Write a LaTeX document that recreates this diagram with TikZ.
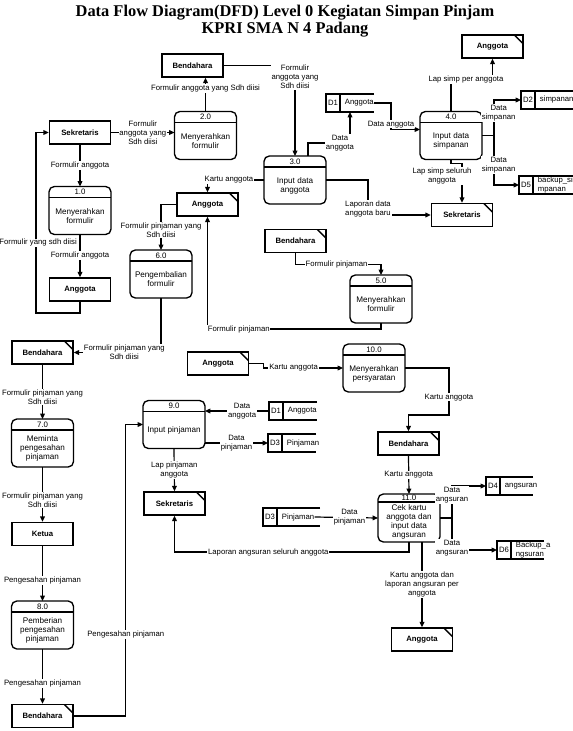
\documentclass[tikz,border=0pt]{standalone}
\usepackage{fontspec}
\setsansfont{Liberation Sans}
\newfontfamily\titlefont{Liberation Serif}
\usetikzlibrary{arrows.meta}

\tikzset{
  entbox/.style={draw, line width=1.1pt, minimum width=45.75pt, minimum height=17.25pt, inner sep=0pt,
    font=\sffamily\bfseries\fontsize{5.8}{6.8}\selectfont},
  entcut/.style={entbox, path picture={\draw[line width=1pt] ([xshift=-6.5pt]path picture bounding box.north east) -- ([yshift=-6.5pt]path picture bounding box.north east);}},
  procbox/.style={draw, line width=1pt, rounded corners=4pt, minimum width=46.5pt, minimum height=36pt, inner sep=0pt, outer sep=0pt},
  procnum/.style={inner sep=0pt, font=\sffamily\fontsize{5.9}{6.8}\selectfont},
  proctxt/.style={inner sep=0pt, align=center, font=\sffamily\fontsize{6.1}{6.8}\selectfont},
  storebox/.style={minimum height=13.5pt, inner sep=0pt, outer sep=0pt},
  storetxt/.style={inner sep=0pt, align=left, font=\sffamily\fontsize{5.8}{6.8}\selectfont},
  flowline/.style={line width=0.9pt, -{Triangle[length=4pt,width=3.5pt]}},
  flowlbl/.style={fill=white, inner sep=0.6pt, align=center, font=\sffamily\fontsize{5.8}{6.8}\selectfont}
}
% process: name, centre, header depth, number, text
\def\procnode(#1)(#2)#3#4#5{%
  \node[procbox] (#1) at (#2) {};
  \draw[line width=1pt] ([yshift=-#3]#1.north west) -- ([yshift=-#3]#1.north east);
  \node[procnum] at ([yshift=-#3/2]#1.north) {#4};
  \node[proctxt] at ([yshift=-#3/2]#1.center) {#5};
}
% data store: name, north west corner, length, id, text
\def\storenode(#1)(#2)#3#4#5{%
  \node[storebox, minimum width=#3, anchor=north west] (#1) at (#2) {};
  \draw[line width=0.9pt] (#1.north east) -- (#1.north west) -- (#1.south west) -- (#1.south east);
  \draw[line width=0.9pt] ([xshift=10.5pt]#1.north west) -- ([xshift=10.5pt]#1.south west);
  \node[storetxt] at ([xshift=5.25pt]#1.west) {#4};
  \node[storetxt, anchor=west] at ([xshift=14pt]#1.west) {#5};
}

\begin{document}
\begin{tikzpicture}[x=0.75pt, y=-0.75pt]
		%%%%% START %%%%%
		\useasboundingbox (0,0) rectangle (573,731);
		
		\node[anchor=base, font=\titlefont\bfseries\fontsize{12.3}{14}\selectfont] (title1) at (285,16.5) {Data Flow Diagram(DFD) Level 0 Kegiatan Simpan Pinjam};
		\node[anchor=base, font=\titlefont\bfseries\fontsize{12.3}{14}\selectfont] (title2) at (285,33.5) {KPRI SMA N 4 Padang};
		
		\node[entcut] (angTR) at (492.5,46.5) {Anggota};
		\node[entbox] (bendT) at (192.5,65.5) {Bendahara};
		\node[entbox] (sekTL) at (80,132.5) {Sekretaris};
		\node[entbox] (angL) at (80,289.5) {Anggota};
		\node[entcut] (angM) at (207.5,204.5) {Anggota};
		\node[entcut] (sekR) at (462,215) {Sekretaris};
		\node[entcut] (bendM) at (295.5,241) {Bendahara};
		\node[entcut] (bendL) at (42.5,352.5) {Bendahara};
		\node[entcut] (angM2) at (218,363.5) {Anggota};
		\node[entbox] (ketua) at (42.5,534) {Ketua};
		\node[entcut] (bendR) at (408.5,443.5) {Bendahara};
		\node[entcut] (sekB) at (174.5,503.5) {Sekretaris};
		\node[entcut] (angBR) at (422,639.5) {Anggota};
		\node[entcut] (bendBL) at (42.5,716) {Bendahara};
		
		\procnode(p1)(80,210.5){8.25pt}{1.0}{Menyerahkan\\formulir}
		\procnode(p2)(205.5,135.5){8.25pt}{2.0}{Menyerahkan\\formulir}
		\procnode(p3)(295,180){8.25pt}{3.0}{Input data\\anggota}
		\procnode(p4)(451,135.5){8.25pt}{4.0}{Input data\\simpanan}
		\procnode(p5)(381,299){8.25pt}{5.0}{Menyerahkan\\formulir}
		\procnode(p6)(161,274){8.25pt}{6.0}{Pengembalian\\formulir}
		\procnode(p7)(42.5,443){8.25pt}{7.0}{Meminta\\pengesahan\\pinjaman}
		\procnode(p8)(42.5,625){8.25pt}{8.0}{Pemberian\\pengesahan\\pinjaman}
		\procnode(p9)(174,424.5){8.25pt}{9.0}{Input pinjaman}
		\procnode(p10)(374,368){8.25pt}{10.0}{Menyerahkan\\persyaratan}
		\procnode(p11)(409,518){6pt}{11.0}{Cek kartu\\anggota dan\\input data\\angsuran}
		
		\storenode(d1a)(326,94){36pt}{D1}{Anggota}
		\storenode(d2)(521,91){39pt}{D2}{simpanan}
		\storenode(d5)(519,176){40.5pt}{D5}{backup\_si\\mpanan}
		\storenode(d1b)(269,402){36pt}{D1}{Anggota}
		\storenode(d3a)(268,434){36pt}{D3}{Pinjaman}
		\storenode(d3b)(263,508){42.75pt}{D3}{Pinjaman}
		\storenode(d4)(486,477){35.25pt}{D4}{angsuran}
		\storenode(d6)(497,541){35.25pt}{D6}{Backup\_a\\ngsuran}
		
		\draw[flowline] (bendT.east) -| (p3.north) node[flowlbl, pos=0.563] {Formulir\\anggota yang\\Sdh diisi};
		\draw[flowline] (p2.north) -- (p2.north |- bendT.south) node[flowlbl, pos=0.69] {Formulir anggota yang Sdh diisi};
		\draw[flowline] (sekTL.east) -- (sekTL.east -| p2.west) node[flowlbl, midway] {Formulir\\anggota yang\\Sdh diisi};
		\draw[flowline] (sekTL.south) -- (p1.north) node[flowlbl, midway] {Formulir anggota};
		\draw[flowline] (p1.south) -- (angL.north) node[flowlbl, midway] {Formulir anggota};
		\draw[flowline] (angL.south) |- (36,313) |- (sekTL.west) node[flowlbl, pos=0.194, xshift=1.6pt] {Formulir yang sdh diisi};
		\draw[flowline] (p3.west) -| (angM.north) node[flowlbl, pos=0.31] {Kartu anggota};
		\draw[flowline] (angM.west) -| (p6.north) node[flowlbl, pos=0.78] {Formulir pinjaman yang\\Sdh diisi};
		\draw[flowline] (p6.south) |- (bendL.east) node[flowlbl, pos=0.71] {Formulir pinjaman yang\\Sdh diisi};
		\draw[flowline] (p5.south) -- ++(0,6) -| (angM.south) node[flowlbl, pos=0.41] {Formulir pinjaman};
		\draw[flowline] (bendM.south) -- ++(0,11) -| (p5.north) node[flowlbl, pos=0.24] {Formulir pinjaman};
		\draw[flowline] ([xshift=9.75pt]p3.north) -- ++(0,-13) -| (d1a.south) node[flowlbl, pos=0.38] {Data\\anggota};
		\draw[flowline] (d1a.east) -- ++(17,0) |- ([yshift=4.5pt]p4.west) node[flowlbl, pos=0.4] {Data anggota};
		\draw[flowline] (p4.north) -- ++(0,-32) -| (angTR.south) node[flowlbl, pos=0.18] {Lap simp per anggota};
		\draw[flowline] (p4.east) -- ++(12,0) |- (d2.west) node[flowlbl, pos=0.32, xshift=3.5pt] {Data\\simpanan};
		\draw[flowline] (p4.east) -- ++(12,0) |- (d5.west) node[flowlbl, pos=0.3, xshift=3.5pt] {Data\\simpanan};
		\draw[flowline] (p4.south) -- ++(0,4) -| (sekR.north) node[flowlbl, pos=0.66, xshift=-15pt] {Lap simp seluruh\\anggota};
		\draw[flowline] (p3.east) -- ++(42,0) |- (sekR.west) node[flowlbl, pos=0.41] {Laporan data\\anggota baru};
		
		\draw[flowline] (angM2.east) -- ++(14,0) |- (p10.west) node[flowlbl, pos=0.69] {Kartu anggota};
		\draw[flowline] (p10.east) -- ++(44,0) -- ++(0,47) node[flowlbl, pos=0.62] {Kartu anggota} -| (bendR.north);
		\draw[flowline] (bendR.south) -- (p11.north) node[flowlbl, midway] {Kartu anggota};
		\draw[flowline] ([xshift=-4pt]d3b.east) -- (p11.west) node[flowlbl, pos=0.55] {Data\\pinjaman};
		\draw[flowline] (p11.east) -- ++(12,0) |- (d4.west) node[flowlbl, pos=0.36] {Data\\angsuran};
		\draw[flowline] (p11.east) -- ++(12,0) |- (d6.west) node[flowlbl, pos=0.47] {Data\\angsuran};
		\draw[flowline] (p11.south) -- ++(0,10) -| (sekB.south) node[flowlbl, pos=0.3] {Laporan angsuran seluruh anggota};
		\draw[flowline] (angBR.north |- p11.south) -- (angBR.north) node[flowlbl, midway] {Kartu anggota dan\\laporan angsuran per\\anggota};
		\draw[flowline] (d1b.west) -- (p9.east |- d1b.west) node[flowlbl, pos=0.42] {Data\\anggota};
		\draw[flowline] (p9.east |- d3a.west) -- (d3a.west) node[flowlbl, midway] {Data\\pinjaman};
		\draw[flowline] (p9.south) -- (sekB.north) node[flowlbl, midway] {Lap pinjaman\\anggota};
		\draw[flowline] (bendBL.east) -- ++(52,0) |- (p9.west) node[flowlbl, pos=0.14] {Pengesahan pinjaman};
		
		\draw[flowline] (bendL.south) -- (p7.north) node[flowlbl, pos=0.6] {Formulir pinjaman yang\\Sdh diisi};
		\draw[flowline] (p7.south) -- (ketua.north) node[flowlbl, pos=0.6] {Formulir pinjaman yang\\Sdh diisi};
		\draw[flowline] (ketua.south) -- (p8.north) node[flowlbl, pos=0.63] {Pengesahan pinjaman};
		\draw[flowline] (p8.south) -- (bendBL.north) node[flowlbl, pos=0.63] {Pengesahan pinjaman};
		
		%%%%% END %%%%%
\end{tikzpicture}
\end{document}
